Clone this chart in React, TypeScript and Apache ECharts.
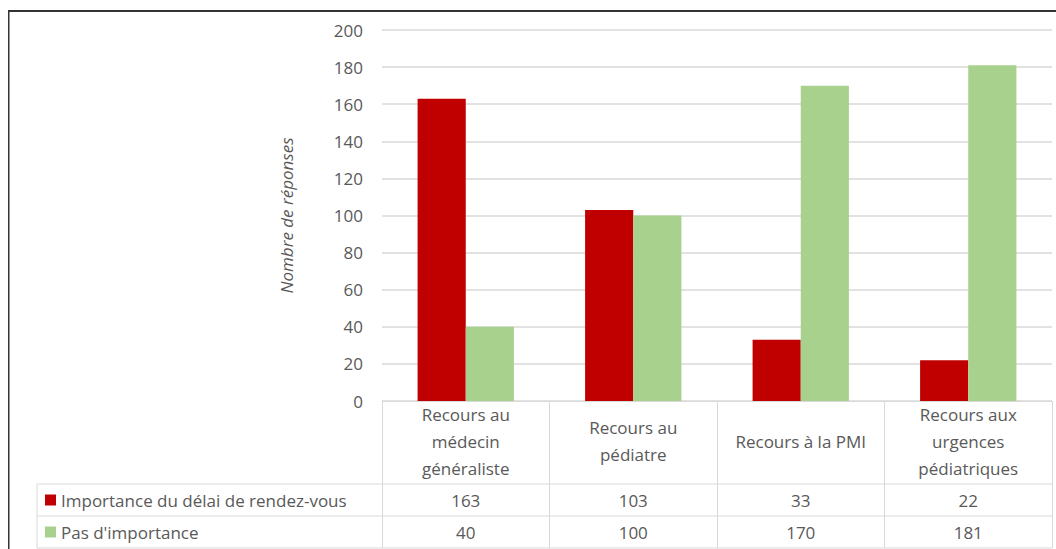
import React, { useEffect, useRef } from "react";
import * as echarts from "echarts";

const categories = [
  "Recours au\nmédecin\ngénéraliste",
  "Recours au\npédiatre",
  "Recours à la PMI",
  "Recours aux\nurgences\npédiatriques",
];
const seriesNames = ["Importance du délai de rendez-vous", "Pas d'importance"];
const importanceDelai = [163, 103, 33, 22];
const pasImportance = [40, 100, 170, 181];
const yMin = 0;
const yMax = 200;
const yInterval = 20;
const yTitle = "Nombre de réponses";

const RED = "#C00000";
const GREEN = "#A9D18E";
const TEXT = "#595959";
const GRID = "#D9D9D9";
const FONT = "'Open Sans', Lato, sans-serif";
const FS = 17;

export default function App() {
  const ref = useRef<HTMLDivElement>(null);
  useEffect(() => {
    document.body.style.margin = "0";
    const chart = echarts.init(ref.current!, null, { renderer: "svg" });
    chart.setOption({
      animation: false,
      textStyle: { fontFamily: FONT },
      grid: { left: 382, right: 4, top: 30, bottom: 148 },
      legend: {
        orient: "vertical",
        left: 45,
        top: 490,
        padding: 0,
        itemGap: 12,
        itemWidth: 11,
        itemHeight: 11,
        icon: "rect",
        selectedMode: false,
        textStyle: { fontFamily: FONT, fontSize: FS, color: TEXT, lineHeight: 20 },
        data: seriesNames,
      },
      xAxis: {
        type: "category",
        data: categories,
        axisLine: { show: true, lineStyle: { color: GRID, width: 1 } },
        axisTick: { show: true, interval: 0, length: 147, lineStyle: { color: GRID, width: 1 } },
        axisLabel: {
          interval: 0,
          margin: 40,
          verticalAlign: "middle",
          lineHeight: 27,
          fontSize: FS,
          fontFamily: FONT,
          color: TEXT,
        },
      },
      yAxis: {
        type: "value",
        min: yMin,
        max: yMax,
        interval: yInterval,
        name: yTitle,
        nameLocation: "middle",
        nameRotate: 90,
        nameGap: 87,
        nameTextStyle: { fontStyle: "italic", fontSize: FS, color: TEXT, fontFamily: FONT },
        axisLine: { show: false },
        axisTick: { show: false },
        axisLabel: { margin: 19, fontSize: FS, color: TEXT, fontFamily: FONT },
        splitLine: { lineStyle: { color: GRID, width: 1.5 } },
      },
      series: [
        {
          name: seriesNames[0],
          type: "bar",
          data: importanceDelai,
          itemStyle: { color: RED },
          barGap: "0%",
          barCategoryGap: "42.5%",
        },
        {
          name: seriesNames[1],
          type: "bar",
          data: pasImportance,
          itemStyle: { color: GREEN },
          barGap: "0%",
          barCategoryGap: "42.5%",
        },
      ],
    });

    const xs = categories.map((_, i) => chart.convertToPixel({ xAxisIndex: 0 }, i) as number);
    const rowsY = [500, 532];
    const rows = [importanceDelai, pasImportance];
    const line = (x1: number, y1: number, x2: number, y2: number, stroke: string, lw: number) => ({
      type: "line",
      silent: true,
      shape: { x1, y1, x2, y2 },
      style: { stroke, lineWidth: lw },
    });
    const graphics: any[] = [
      line(37, 484, 1052, 484, GRID, 1),
      line(37, 516, 1052, 516, GRID, 1),
      line(37, 548, 1052, 548, GRID, 1),
      line(37, 484, 37, 548, GRID, 1),
      line(8, 11, 1056, 11, "#333333", 2),
      line(8.75, 11, 8.75, 549, "#333333", 1.5),
    ];
    rows.forEach((row, r) => {
      row.forEach((v, i) => {
        graphics.push({
          type: "text",
          silent: true,
          x: xs[i],
          y: rowsY[r],
          style: {
            text: String(v),
            align: "center",
            verticalAlign: "middle",
            fontSize: FS,
            fontFamily: FONT,
            fill: TEXT,
          },
        });
      });
    });
    chart.setOption({ graphic: graphics });
    return () => chart.dispose();
  }, []);
  return <div ref={ref} style={{ width: 1056, height: 549 }} />;
}
